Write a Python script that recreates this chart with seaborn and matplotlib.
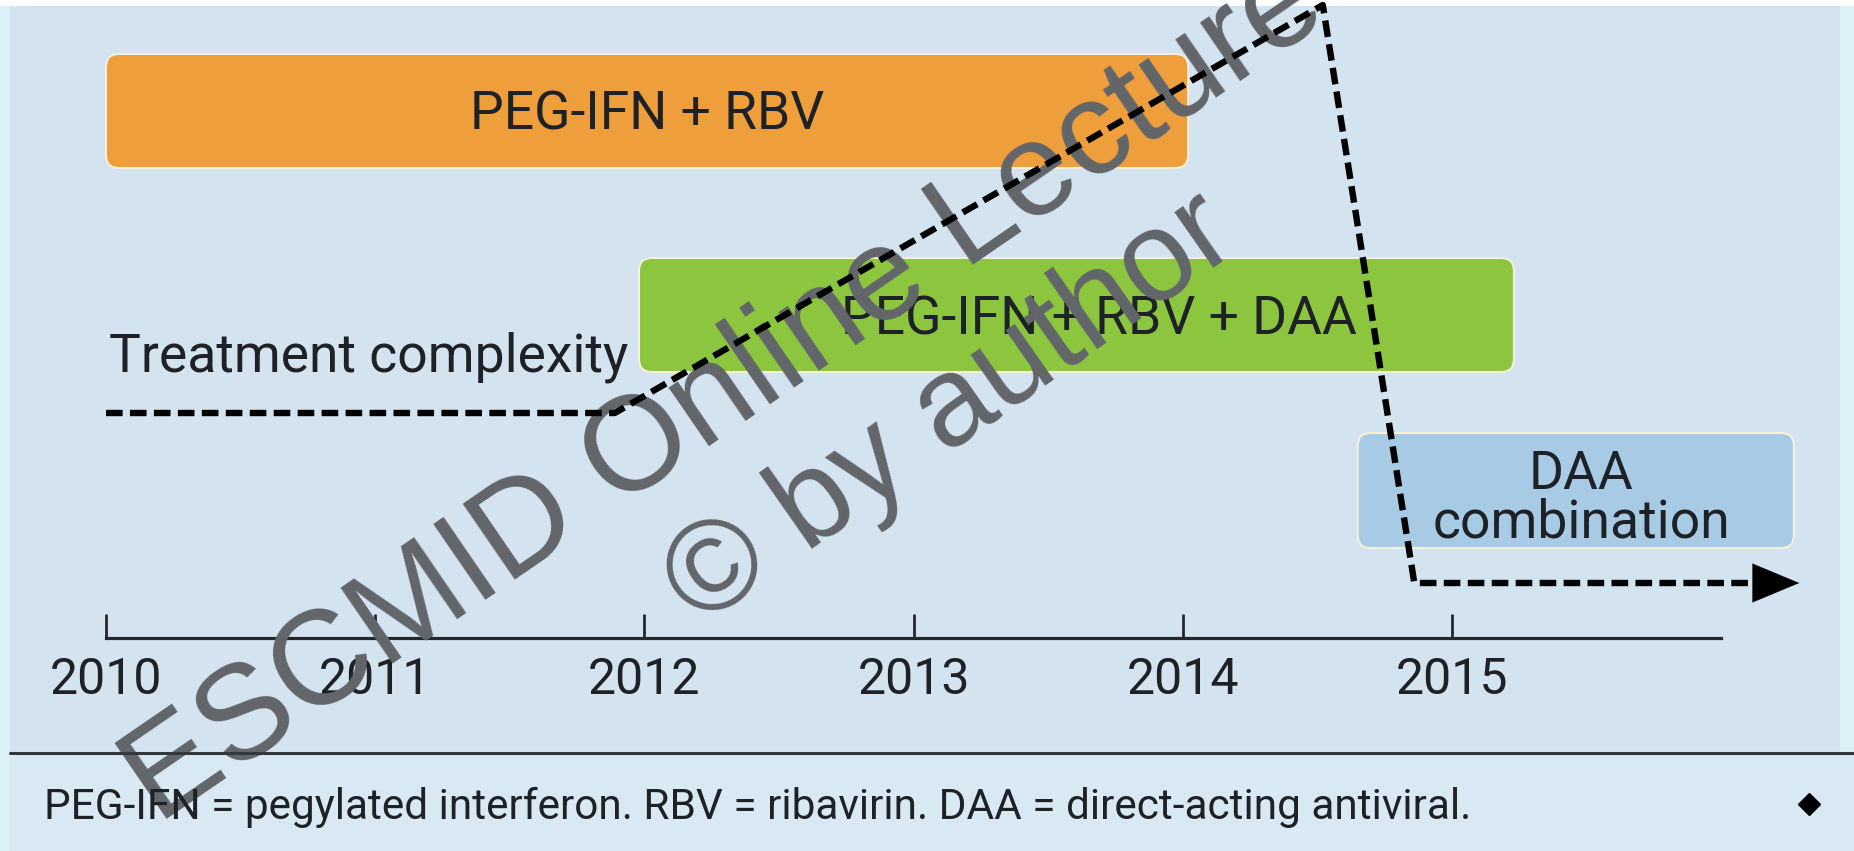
import matplotlib
matplotlib.use("Agg")
import matplotlib.pyplot as plt
import seaborn as sns
import pandas as pd
from matplotlib.patches import FancyBboxPatch, Rectangle
from matplotlib.lines import Line2D

# ---------------- data ----------------
regimens = ["PEG-IFN + RBV", "PEG-IFN + RBV + DAA", "DAA\ncombination"]
start_year = [2010.0, 2011.98, 2014.65]
end_year = [2014.02, 2015.23, 2016.27]
regimen_colors = ["#EF9E3C", "#8CC63F", "#A7CBE4"]

complexity_year = [2010.0, 2011.89, 2014.52, 2014.86, 2016.20]
complexity_level = [2.0, 2.0, 4.40, 1.0, 1.0]
complexity_label = "Treatment complexity"

tick_years = [2010, 2011, 2012, 2013, 2014, 2015]
tick_labels = ["2010", "2011", "2012", "2013", "2014", "2015"]
axis_start, axis_end = 2010.0, 2016.0

footnote = "PEG-IFN = pegylated interferon. RBV = ribavirin. DAA = direct-acting antiviral."
watermark1 = "ESCMID Online Lecture Library"
watermark2 = "\u00a9 by author"

# ---------------- layout ----------------
W, H = 1854, 851
PX_PER_YEAR = 269.2
X2010 = 106.0
xlim = (2010 - X2010 / PX_PER_YEAR, 2010 + (W - X2010) / PX_PER_YEAR)
bar_rows = [(54, 168), (258, 372), (433, 548)]   # top/bottom in px from top
AXIS_Y = 638
BG = "#d4e3f0"
TEXT = "#1e2226"
FONT = ["Roboto", "DejaVu Sans"]
BIG = 38.5

sns.set_theme(style="white")
plt.rcParams["font.family"] = FONT

fig = plt.figure(figsize=(W / 100, H / 100), dpi=100)
fig.patch.set_facecolor(BG)

def fx(px):
    return px / W

def fy(py):
    return 1 - py / H

# background pieces
fig.add_artist(Rectangle((0, fy(6)), 1, 1 - fy(6), transform=fig.transFigure,
                         facecolor="white", edgecolor="none", zorder=-10))
fig.add_artist(Rectangle((0, 0), fx(10), fy(6), transform=fig.transFigure,
                         facecolor="#dcf0f8", edgecolor="none", zorder=-10))
fig.add_artist(Rectangle((fx(1840), 0), 1, fy(6), transform=fig.transFigure,
                         facecolor="#dcf0f8", edgecolor="none", zorder=-10))
fig.add_artist(Rectangle((fx(10), 0), 1, fy(755), transform=fig.transFigure,
                         facecolor="#d9e9f4", edgecolor="none", zorder=-9))

ax = fig.add_axes([0, 0, 1, 1])
ax.set_facecolor("none")
ax.set_xlim(*xlim)
ax.set_ylim(H, 0)

# regimen bars
for name, s, e, c, (top, bot) in zip(regimens, start_year, end_year, regimen_colors, bar_rows):
    box = FancyBboxPatch((s, top), e - s, bot - top,
                         boxstyle="round,pad=0,rounding_size=%f" % (13 / PX_PER_YEAR),
                         mutation_aspect=PX_PER_YEAR, facecolor=c, edgecolor="#f4f0dc",
                         linewidth=1.5, zorder=2)
    ax.add_patch(box)

ax.text((start_year[0] + end_year[0]) / 2, 115, regimens[0], ha="center", va="center",
        fontsize=BIG, color=TEXT, zorder=4)
ax.text(2013.69, 320, regimens[1], ha="center", va="center",
        fontsize=BIG, color=TEXT, zorder=4)
ax.text((start_year[2] + end_year[2]) / 2 + 0.02, 499, regimens[2], ha="center",
        va="center", fontsize=BIG, color=TEXT, linespacing=0.95, zorder=4)
ax.text(start_year[0] + 0.01, 357, complexity_label, ha="left", va="center",
        fontsize=BIG, color=TEXT, zorder=4)

# timeline axis
for side in ["top", "left", "right"]:
    ax.spines[side].set_visible(False)
ax.spines["bottom"].set_position(("data", AXIS_Y))
ax.spines["bottom"].set_bounds(axis_start, axis_end)
ax.spines["bottom"].set_linewidth(2.3)
ax.spines["bottom"].set_color("#24282c")
ax.set_yticks([])
ax.set_xticks(tick_years)
ax.set_xticklabels(tick_labels)
ax.tick_params(axis="x", direction="in", length=17, width=2.0, color="#24282c",
               labelsize=36, labelcolor=TEXT, pad=13, bottom=True)
ax.grid(False)

# watermark (behind the complexity line)
wm_color = "#62666a"
ax.text(fx(158), fy(825), watermark1, transform=fig.transFigure, rotation=34.5,
        rotation_mode="anchor", ha="left", va="baseline", fontsize=96,
        family=["Liberation Sans", "DejaVu Sans"], color=wm_color, zorder=10)
ax.text(fx(700), fy(628), watermark2, transform=fig.transFigure, rotation=35,
        rotation_mode="anchor", ha="left", va="baseline", fontsize=92,
        family=["Liberation Sans", "DejaVu Sans"], color=wm_color, zorder=10)

# complexity line on a twin axis
ax2 = ax.twinx()
ax2.set_ylim(2 - (H - 413) / 170.0, 2 + 413 / 170.0)
cdf = pd.DataFrame({"year": complexity_year, "complexity": complexity_level})
sns.lineplot(data=cdf, x="year", y="complexity", ax=ax2, color="black",
             linewidth=4.6, linestyle=(0, (2.6, 1.15)), sort=False,
             estimator=None, legend=False)
ax2.annotate("", xy=(complexity_year[-1] + 0.09, complexity_level[-1]),
             xytext=(complexity_year[-1] - 0.05, complexity_level[-1]),
             arrowprops=dict(arrowstyle="-|>,head_length=2.4,head_width=1.0",
                             mutation_scale=14, color="black", lw=0.1,
                             shrinkA=0, shrinkB=0))
ax2.set_axis_off()
ax2.set_xlim(*xlim)

# separator and footnote
fig.add_artist(Line2D([fx(10), 1], [fy(753), fy(753)], transform=fig.transFigure,
                      color="#33383d", linewidth=2.2))
fig.text(fx(44), fy(807), footnote, ha="left", va="center", fontsize=30.5, color=TEXT)
fig.add_artist(Line2D([fx(1809)], [fy(804)], transform=fig.transFigure, marker="D",
                      markersize=11, color="black", linestyle="none"))

fig.savefig("out.png", dpi=100, facecolor=fig.get_facecolor())
